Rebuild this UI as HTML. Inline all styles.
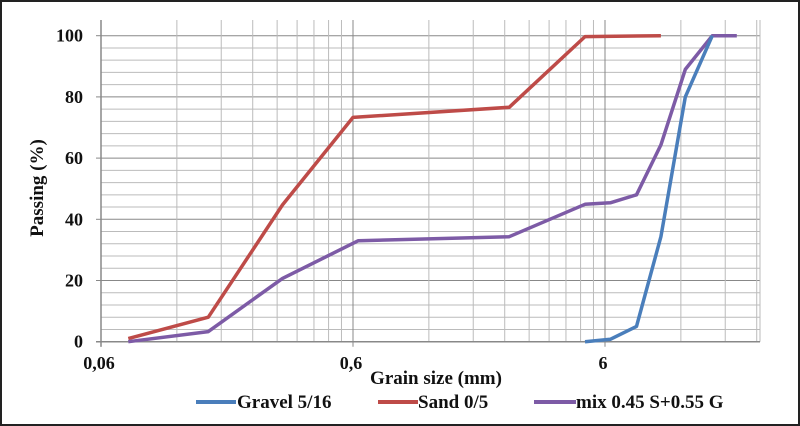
<!DOCTYPE html>
<html><head><meta charset="utf-8"><style>
html,body{margin:0;padding:0;background:#fff}
svg{display:block}
text{font-family:"Liberation Serif",serif;font-weight:bold;fill:#111}
</style></head><body>
<svg width="800" height="426" viewBox="0 0 800 426">
<rect x="1" y="1" width="798" height="424" fill="#fff" stroke="#222" stroke-width="2"/>
<g id="grid"></g>
<g id="axes"></g>
<g id="series"></g>
<text x="43" y="188" font-size="19" text-anchor="middle" transform="rotate(-90 43 188)">Passing (%)</text>
<text x="436" y="384" font-size="19" text-anchor="middle">Grain size (mm)</text>
<g>
<g><line x1="196" y1="402" x2="236" y2="402" stroke="#4a7ebb" stroke-width="4"/><text x="237" y="408" font-size="19">Gravel 5/16</text></g>
<g><line x1="378" y1="402" x2="418" y2="402" stroke="#be4b48" stroke-width="4"/><text x="418" y="408" font-size="19">Sand 0/5</text></g>
<g><line x1="534" y1="402" x2="576" y2="402" stroke="#7d5ba6" stroke-width="4"/><text x="576" y="408" font-size="19">mix 0.45 S+0.55 G</text></g>
</g>
</svg>
<script>
const xTickValues=[0.06,0.6,6];
const xTickLabels=["0,06","0,6","6"];
const yTickValues=[0,20,40,60,80,100];
const gravelX=[5,6.3,8,10,12.5,16];
const gravelY=[0,0.8,5,34.3,80,100];
const sandX=[0.077,0.16,0.315,0.6,2.5,5,10];
const sandY=[1,8,44.7,73.3,76.6,99.7,100];
const mixX=[0.077,0.16,0.315,0.63,2.5,5,6.3,8,10,12.5,16,20];
const mixY=[0,3.3,20.7,33,34.3,44.9,45.4,48,64.3,89,100,100];

const NS="http://www.w3.org/2000/svg";
const L=101,R=760,T=20,Y0=341.7,Y100=35.7,DEC=252;
function sx(v){return L+Math.log10(v/0.06)*DEC;}
function sy(v){return Y0+(Y100-Y0)*v/100;}
function mk(tag,attrs,parent){const e=document.createElementNS(NS,tag);for(const k in attrs)e.setAttribute(k,attrs[k]);parent.appendChild(e);return e;}
const grid=document.getElementById('grid'),axes=document.getElementById('axes'),series=document.getElementById('series');
for(let v=4;v<=100;v+=4){
  const l=mk('line',{x1:L,x2:R,y1:sy(v),y2:sy(v),stroke:v%20===0?'#888':'#bbb','stroke-width':1},grid);
  
  
}
for(let d=0.06;d<30;d*=10){
  for(let k=1;k<=9;k++){
    const v=d*k,x=sx(v);if(x>R+1)break;
    const l=mk('line',{x1:x,x2:x,y1:T,y2:Y0,stroke:k===1?'#888':'#bbb','stroke-width':1},grid);
    
    
  }
}
mk('line',{x1:R,x2:R,y1:T,y2:Y0,stroke:'#bbb'},grid);
const ya=mk('line',{x1:L,x2:L,y1:T,y2:Y0+5,stroke:'#888','stroke-width':1.5},axes);


const xa=mk('line',{x1:L-5,x2:R,y1:Y0,y2:Y0,stroke:'#888','stroke-width':1.5},axes);


yTickValues.forEach(v=>{
  mk('line',{x1:L-5,x2:L,y1:sy(v),y2:sy(v),stroke:'#888'},axes);
  const t=mk('text',{x:83,y:sy(v)+6,'font-size':18,'text-anchor':'end'},axes);
  t.textContent=v;
  
  
});
xTickValues.forEach((v,i)=>{
  mk('line',{x1:sx(v),x2:sx(v),y1:Y0,y2:Y0+5,stroke:'#888'},axes);
  const t=mk('text',{x:sx(v)-2,y:369,'font-size':18,'text-anchor':'middle'},axes);
  t.textContent=xTickLabels[i];
  
  
});
function draw(xs,ys,color,name){
  const pts=xs.map((x,i)=>sx(x).toFixed(1)+','+sy(ys[i]).toFixed(1)).join(' ');
  const p=mk('polyline',{points:pts,fill:'none',stroke:color,'stroke-width':3.5,'stroke-linejoin':'round'},series);
  
  
}
draw(sandX,sandY,'#be4b48','sand-line');
draw(mixX,mixY,'#7d5ba6','mix-line');
draw(gravelX,gravelY,'#4a7ebb','gravel-line');
</script>
</body></html>
